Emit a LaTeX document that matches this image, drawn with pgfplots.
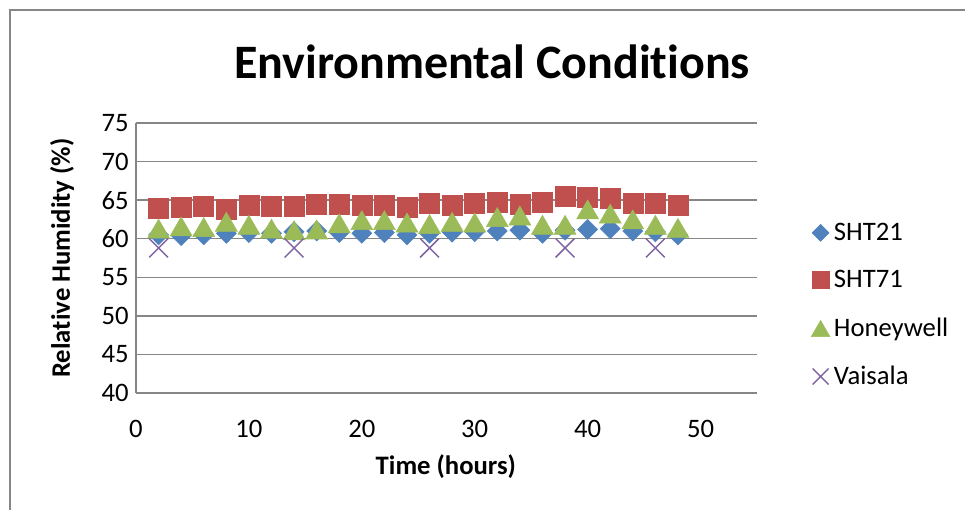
\documentclass[border=0pt]{standalone}
\usepackage{pgfplots}
\pgfplotsset{compat=1.18}
\usepackage{fontspec}
\setmainfont{Carlito}[Ligatures=NoCommon]
\definecolor{sblue}{HTML}{4F81BD}
\definecolor{sred}{HTML}{C0504D}
\definecolor{sgreen}{HTML}{9BBB59}
\definecolor{spurple}{HTML}{8064A2}
\definecolor{gridc}{HTML}{868686}
\begin{document}
\begin{tikzpicture}[x=0.75pt,y=0.75pt]
\path[use as bounding box] (-136,-117) rectangle (829,393);
\draw[gridc, line width=1.1pt] (-126,-117) -- (-126,383) -- (829,383);
\node[font=\fontsize{36}{40}\selectfont\bfseries] at (356,331) {Environmental Conditions};
\begin{axis}[
  at={(0,0)}, anchor=south west, scale only axis,
  width=465.75pt, height=202.5pt,
  xmin=0, xmax=55, ymin=40, ymax=75,
  xtick={0,10,...,50}, ytick={40,45,...,75},
  ymajorgrids, grid style={gridc, line width=1pt},
  axis lines*=left, axis line style={gridc, line width=1pt},
  major tick length=0pt,
  tick label style={font=\fontsize{20}{24}\selectfont, /pgf/number format/assume math mode=true},
  xticklabel style={yshift=-17pt},
  yticklabel style={xshift=-2pt},
  xlabel={Time (hours)}, ylabel={Relative Humidity (\%)},
  label style={font=\fontsize{20}{24}\selectfont\bfseries},
  xlabel style={at={(axis description cs:0.499,-0.274)}, anchor=center},
  ylabel style={at={(axis description cs:-0.119,0.5)}, anchor=center},
  legend style={at={(axis description cs:1.087,0.326)}, anchor=west, draw=none, fill=none,
    font=\fontsize{20}{24}\selectfont, row sep=17pt, inner sep=0pt,
    nodes={inner xsep=3pt}},
  legend image post style={every mark/.append style={scale=0.85}},
  legend cell align=left,
]
\addplot[only marks, mark=square*, mark size=5.3pt, mark options={rotate=45, draw=sblue, fill=sblue}] coordinates {
(2,60.5)(4,60.4)(6,60.5)(8,60.7)(10,60.8)(12,60.7)(14,60.9)(16,61.0)(18,60.8)(20,60.7)(22,60.8)(24,60.5)
(26,60.7)(28,60.85)(30,60.9)(32,61.0)(34,61.1)(36,60.7)(38,61.1)(40,61.2)(42,61.3)(44,61.0)(46,60.9)(48,60.5)};
\addlegendentry{SHT21}
\addplot[only marks, mark=square*, mark size=7.5pt, mark options={draw=sred, fill=sred}] coordinates {
(2,63.9)(4,64.07)(6,64.2)(8,63.8)(10,64.3)(12,64.2)(14,64.25)(16,64.5)(18,64.5)(20,64.4)(22,64.3)(24,64.1)
(26,64.6)(28,64.4)(30,64.6)(32,64.7)(34,64.5)(36,64.75)(38,65.5)(40,65.4)(42,65.2)(44,64.6)(46,64.6)(48,64.4)};
\addlegendentry{SHT71}
\addplot[only marks, mark=triangle*, mark size=9.5pt, mark options={draw=sgreen, fill=sgreen, yshift=-2.4pt}] coordinates {
(2,61.3)(4,61.6)(6,61.5)(8,62.2)(10,61.8)(12,61.3)(14,61.1)(16,61.2)(18,62.0)(20,62.4)(22,62.4)(24,62.1)
(26,61.9)(28,62.2)(30,62.1)(32,62.8)(34,63.0)(36,61.8)(38,61.8)(40,63.8)(42,63.25)(44,62.5)(46,61.8)(48,61.4)};
\addlegendentry{Honeywell}
\addplot[only marks, mark=x, mark size=10pt, mark options={draw=spurple, line width=1.1pt}] coordinates {
(2,58.8)(14,58.8)(26,58.8)(38,58.8)(46,58.8)};
\addlegendentry{Vaisala}
\end{axis}
\end{tikzpicture}
\end{document}
